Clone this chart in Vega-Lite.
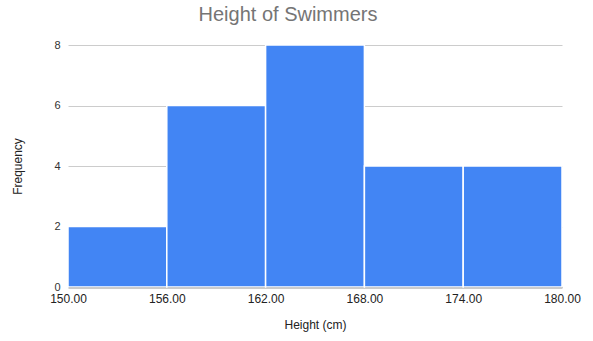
{
  "$schema": "https://vega.github.io/schema/vega-lite/v6.json",
  "width": 494,
  "height": 242,
  "autosize": {"type": "none"},
  "padding": {"left": 68, "top": 45, "right": 31, "bottom": 54},
  "background": "white",
  "title": {
    "text": "Height of Swimmers",
    "font": "Liberation Sans",
    "fontSize": 20,
    "fontWeight": "normal",
    "color": "#757575",
    "anchor": "middle",
    "dx": -27,
    "offset": 14
  },
  "data": {
    "values": [
      {"start": 150, "end": 156, "count": 2},
      {"start": 156, "end": 162, "count": 6},
      {"start": 162, "end": 168, "count": 8},
      {"start": 168, "end": 174, "count": 4},
      {"start": 174, "end": 180, "count": 4}
    ]
  },
  "mark": {"type": "bar", "color": "#4285F4", "stroke": "white", "strokeWidth": 1.5},
  "encoding": {
    "x": {
      "field": "start",
      "type": "quantitative",
      "scale": {"domain": [150, 180], "nice": false, "zero": false},
      "axis": {
        "title": "Height (cm)",
        "values": [150, 156, 162, 168, 174, 180],
        "format": ".2f",
        "grid": false,
        "ticks": false,
        "labelFlush": false,
        "domainColor": "#333333",
        "domainWidth": 1.5,
        "labelFont": "Liberation Sans",
        "labelFontSize": 12,
        "labelColor": "#222222",
        "labelPadding": 6,
        "titleFont": "Liberation Sans",
        "titleFontSize": 12,
        "titleFontWeight": "normal",
        "titleColor": "#222222",
        "titlePadding": 15
      }
    },
    "x2": {"field": "end"},
    "y": {
      "field": "count",
      "type": "quantitative",
      "scale": {"domain": [0, 8], "nice": false},
      "axis": {
        "title": "Frequency",
        "values": [0, 2, 4, 6, 8],
        "domain": false,
        "ticks": false,
        "labelFlush": false,
        "gridColor": "#cccccc",
        "labelFont": "Liberation Sans",
        "labelFontSize": 11,
        "labelColor": "#333333",
        "labelPadding": 8,
        "titleFont": "Liberation Sans",
        "titleFontSize": 12,
        "titleFontWeight": "normal",
        "titleColor": "#222222",
        "titlePadding": 29
      }
    },
    "y2": {"datum": 0}
  },
  "config": {"view": {"stroke": null}}
}
